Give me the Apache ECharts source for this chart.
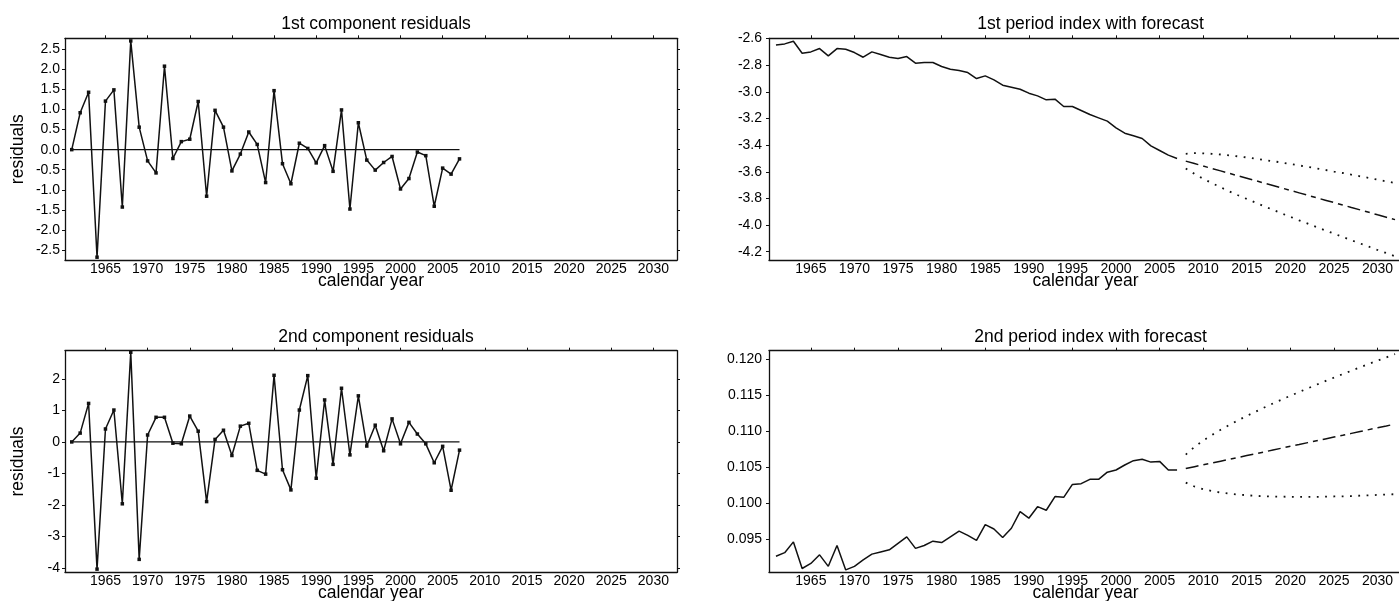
<!DOCTYPE html>
<html>
<head>
<meta charset="utf-8">
<script src="https://cdn.jsdelivr.net/npm/echarts@6/dist/echarts.min.js"></script>
<style>
html,body{margin:0;padding:0;background:#fff;}
#chart{width:1399px;height:601px;}
</style>
</head>
<body>
<div id="chart"></div>
<script>
// ---------- data ----------
const years = [1961,1962,1963,1964,1965,1966,1967,1968,1969,1970,1971,1972,1973,1974,1975,1976,1977,1978,1979,1980,1981,1982,1983,1984,1985,1986,1987,1988,1989,1990,1991,1992,1993,1994,1995,1996,1997,1998,1999,2000,2001,2002,2003,2004,2005,2006,2007];
const fcYears = [2008,2009,2010,2011,2012,2013,2014,2015,2016,2017,2018,2019,2020,2021,2022,2023,2024,2025,2026,2027,2028,2029,2030,2031,2032];

const res1 = [0.0,0.92,1.43,-2.68,1.21,1.49,-1.43,2.71,0.56,-0.28,-0.58,2.08,-0.22,0.2,0.26,1.2,-1.16,0.98,0.56,-0.53,-0.11,0.44,0.13,-0.82,1.47,-0.35,-0.85,0.16,0.03,-0.33,0.1,-0.54,0.99,-1.48,0.67,-0.26,-0.51,-0.32,-0.17,-0.98,-0.72,-0.06,-0.15,-1.41,-0.46,-0.61,-0.23];
const res2 = [0.0,0.28,1.22,-4.03,0.41,1.01,-1.96,2.84,-3.72,0.22,0.78,0.78,-0.04,-0.06,0.82,0.34,-1.89,0.08,0.37,-0.43,0.5,0.59,-0.9,-1.02,2.11,-0.88,-1.52,1.01,2.1,-1.15,1.33,-0.71,1.7,-0.41,1.46,-0.13,0.53,-0.28,0.73,-0.06,0.62,0.25,-0.06,-0.66,-0.14,-1.53,-0.26];

const k1 = [-2.648,-2.64,-2.62,-2.71,-2.70,-2.675,-2.73,-2.675,-2.68,-2.705,-2.74,-2.70,-2.72,-2.74,-2.75,-2.735,-2.785,-2.78,-2.78,-2.81,-2.83,-2.84,-2.855,-2.90,-2.88,-2.91,-2.95,-2.965,-2.98,-3.01,-3.03,-3.06,-3.055,-3.11,-3.11,-3.14,-3.17,-3.195,-3.22,-3.27,-3.31,-3.33,-3.35,-3.405,-3.44,-3.475,-3.50];
const k1Mid = [-3.520,-3.538,-3.557,-3.575,-3.593,-3.612,-3.630,-3.648,-3.666,-3.685,-3.703,-3.721,-3.740,-3.758,-3.776,-3.795,-3.813,-3.831,-3.849,-3.868,-3.886,-3.904,-3.923,-3.941,-3.959];
const k1Up = [-3.465,-3.460,-3.462,-3.465,-3.470,-3.477,-3.484,-3.492,-3.501,-3.511,-3.521,-3.530,-3.542,-3.552,-3.563,-3.575,-3.586,-3.598,-3.609,-3.622,-3.634,-3.646,-3.659,-3.672,-3.684];
const k1Lo = [-3.575,-3.616,-3.652,-3.685,-3.716,-3.747,-3.776,-3.804,-3.831,-3.859,-3.885,-3.912,-3.938,-3.964,-3.989,-4.015,-4.040,-4.064,-4.089,-4.114,-4.138,-4.162,-4.187,-4.210,-4.234];

const k2 = [0.0926,0.0931,0.0946,0.0909,0.0916,0.0928,0.0912,0.0941,0.0907,0.0912,0.0921,0.0929,0.0932,0.0935,0.0944,0.0953,0.0937,0.0941,0.0947,0.0945,0.0953,0.0961,0.0955,0.0948,0.0970,0.0964,0.0952,0.0965,0.0988,0.0979,0.0995,0.0990,0.1009,0.1008,0.1026,0.1027,0.1033,0.1033,0.1043,0.1046,0.1053,0.1059,0.1061,0.1057,0.1058,0.1046,0.1046];
const k2Mid = [0.10480,0.10506,0.10532,0.10557,0.10583,0.10609,0.10635,0.10661,0.10686,0.10712,0.10738,0.10764,0.10790,0.10815,0.10841,0.10867,0.10893,0.10919,0.10944,0.10970,0.10996,0.11022,0.11048,0.11073,0.11099];
const k2Up = [0.10675,0.10782,0.10870,0.10947,0.11019,0.11087,0.11151,0.11213,0.11271,0.11329,0.11385,0.11439,0.11493,0.11545,0.11596,0.11647,0.11697,0.11746,0.11794,0.11842,0.11889,0.11937,0.11982,0.12027,0.12074];
const k2Lo = [0.10285,0.10230,0.10194,0.10167,0.10147,0.10131,0.10119,0.10109,0.10101,0.10095,0.10091,0.10089,0.10087,0.10085,0.10086,0.10087,0.10089,0.10092,0.10094,0.10098,0.10103,0.10107,0.10114,0.10119,0.10124];

const yearTicks = [1965,1970,1975,1980,1985,1990,1995,2000,2005,2010,2015,2020,2025,2030];
const res1Ticks = [-2.5,-2.0,-1.5,-1.0,-0.5,0.0,0.5,1.0,1.5,2.0,2.5];
const res2Ticks = [-4,-3,-2,-1,0,1,2];
const k1Ticks = [-4.2,-4.0,-3.8,-3.6,-3.4,-3.2,-3.0,-2.8,-2.6];
const k2Ticks = [0.095,0.100,0.105,0.110,0.115,0.120];

const titles = ['1st component residuals','2nd component residuals','1st period index with forecast','2nd period index with forecast'];
const xName = 'calendar year';
const yName = 'residuals';

// ---------- helpers ----------
const FONT = 'Liberation Sans';
const INK = '#111';
const zip = (xs, ys) => xs.map((x, i) => [x, ys[i]]);

const grids = [
  {left: 65,  width: 612, top: 38.3,  height: 221.7, outerBoundsMode: 'none', containLabel: false},
  {left: 65,  width: 612, top: 350.7, height: 221.6, outerBoundsMode: 'none', containLabel: false},
  {left: 769, width: 633, top: 38.3,  height: 221.7, outerBoundsMode: 'none', containLabel: false},
  {left: 769, width: 633, top: 350.7, height: 221.6, outerBoundsMode: 'none', containLabel: false}
];
const yRanges = [[-2.75, 2.775], [-4.13, 2.89], [-4.262, -2.598], [0.09037, 0.1212]];
const yTicks = [res1Ticks, res2Ticks, k1Ticks, k2Ticks];
const yFmt = [v => v.toFixed(1), v => String(Math.round(v)), v => v.toFixed(1), v => v.toFixed(3)];
const yMargin = [5, 5, 7, 7];

const xAxes = [], yAxes = [], titleArr = [];
grids.forEach((g, i) => {
  const axLine = {show: true, onZero: false, lineStyle: {color: INK, width: 1.3}};
  xAxes.push({
    type: 'value', gridIndex: i, position: 'bottom', min: 1960.2, max: 2032.8,
    axisLine: axLine, axisTick: {show: false}, splitLine: {show: false},
    axisLabel: {customValues: yearTicks, color: '#000', fontSize: 14, fontFamily: FONT, margin: 2, formatter: v => String(v)},
    name: xName, nameLocation: 'middle', nameGap: 12, nameMoveOverlap: false,
    nameTextStyle: {color: '#000', fontSize: 17.5, fontFamily: FONT}
  });
  xAxes.push({
    type: 'value', gridIndex: i, position: 'top', min: 1960.2, max: 2032.8,
    axisLine: axLine, splitLine: {show: false},
    axisTick: {show: true, customValues: yearTicks, inside: false, length: 3, lineStyle: {color: INK, width: 1}},
    axisLabel: {show: false}
  });
  const yAx = {
    type: 'value', gridIndex: i, position: 'left', min: yRanges[i][0], max: yRanges[i][1],
    axisLine: axLine, splitLine: {show: false},
    axisTick: {show: true, customValues: yTicks[i], inside: false, length: 3, lineStyle: {color: INK, width: 1}},
    axisLabel: {customValues: yTicks[i], color: '#000', fontSize: 14, fontFamily: FONT, margin: yMargin[i], formatter: yFmt[i]}
  };
  if (i < 2) {
    yAx.name = yName; yAx.nameLocation = 'middle'; yAx.nameGap = 38; yAx.nameRotate = 90;
    yAx.nameMoveOverlap = false;
    yAx.nameTextStyle = {color: '#000', fontSize: 17.5, fontFamily: FONT};
  }
  yAxes.push(yAx);
  yAxes.push({
    type: 'value', gridIndex: i, position: 'right', min: yRanges[i][0], max: yRanges[i][1],
    axisLine: axLine, splitLine: {show: false},
    axisTick: {show: true, customValues: yTicks[i], inside: false, length: 3, lineStyle: {color: INK, width: 1}},
    axisLabel: {show: false}
  });
  titleArr.push({
    text: titles[i], left: g.left + g.width / 2, top: g.top - 28, textAlign: 'center',
    textStyle: {color: '#000', fontSize: 17.5, fontWeight: 'normal', fontFamily: FONT}
  });
});

const lineBase = (i) => ({type: 'line', xAxisIndex: 2 * i, yAxisIndex: 2 * i, silent: true, showSymbol: false, symbol: 'none'});
const series = [];
// residual panels
[res1, res2].forEach((r, i) => {
  series.push(Object.assign(lineBase(i), {
    data: zip([years[0], years[years.length - 1]], [0, 0]),
    lineStyle: {color: INK, width: 1.3}
  }));
  series.push(Object.assign(lineBase(i), {
    data: zip(years, r), showSymbol: true, symbol: 'rect', symbolSize: 3.5,
    itemStyle: {color: INK}, lineStyle: {color: INK, width: 1.5}
  }));
});
// index panels with forecast
[[k1, k1Mid, k1Up, k1Lo], [k2, k2Mid, k2Up, k2Lo]].forEach((d, j) => {
  const i = j + 2;
  series.push(Object.assign(lineBase(i), {data: zip(years, d[0]), lineStyle: {color: INK, width: 1.5}}));
  series.push(Object.assign(lineBase(i), {data: zip(fcYears, d[1]), lineStyle: {color: INK, width: 1.5, type: [13, 5, 5, 5]}}));
  series.push(Object.assign(lineBase(i), {data: zip(fcYears, d[2]), lineStyle: {color: INK, width: 1.8, type: [1.8, 6.5]}}));
  series.push(Object.assign(lineBase(i), {data: zip(fcYears, d[3]), lineStyle: {color: INK, width: 1.8, type: [1.8, 6.5]}}));
});

const chart = echarts.init(document.getElementById('chart'), null, {renderer: 'canvas'});
chart.setOption({
  animation: false,
  backgroundColor: '#fff',
  textStyle: {fontFamily: FONT},
  title: titleArr,
  grid: grids,
  xAxis: xAxes,
  yAxis: yAxes,
  series: series
});
</script>
</body>
</html>
